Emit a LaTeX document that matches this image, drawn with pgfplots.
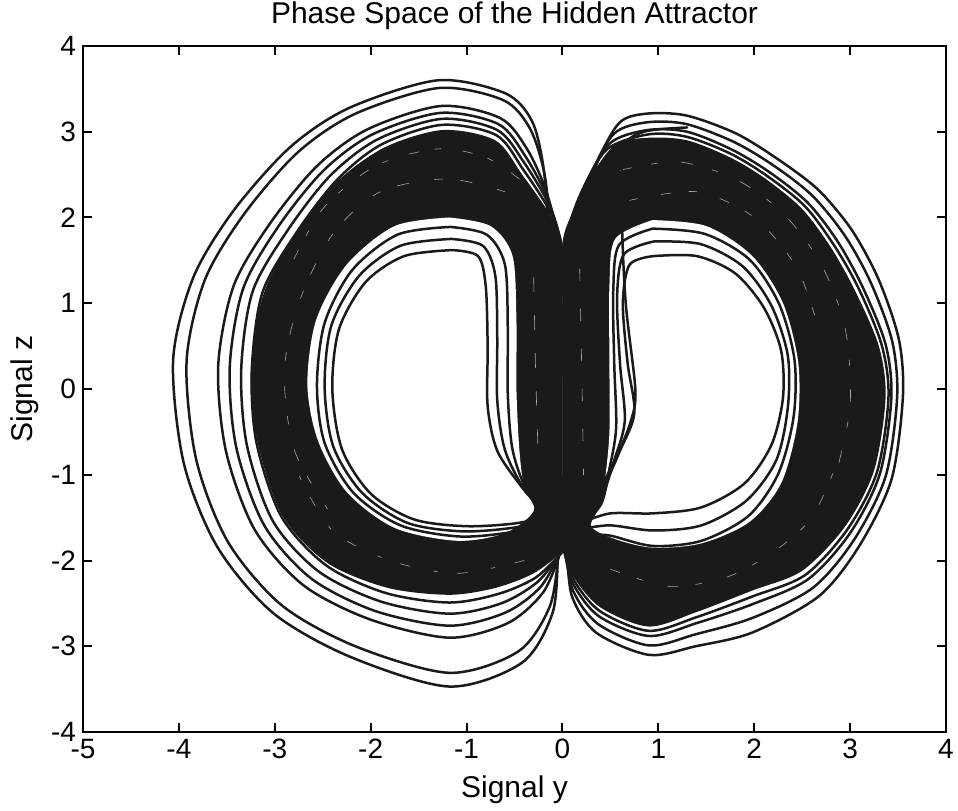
\documentclass[border=0pt]{standalone}
\usepackage{fontspec}
\setmainfont{Liberation Sans}
\usepackage{pgfplots}
\pgfplotsset{compat=1.18}
\definecolor{ink}{RGB}{26,26,26}
\begin{document}
\begin{tikzpicture}
\begin{axis}[name=ax, scale only axis, width=431.5pt, height=343pt,
  xmin=-5, xmax=4, ymin=-4, ymax=4,
  xtick={-5,-4,-3,-2,-1,0,1,2,3,4}, ytick={-4,-3,-2,-1,0,1,2,3,4},
  tick align=inside, xtick pos=both, ytick pos=both,
  major tick length=4.5pt,
  axis line style={line width=1pt, black},
  every tick/.style={line width=1pt, black},
  tick label style={font=\fontsize{14}{16}\selectfont},
  /pgf/number format/assume math mode=true,
  title={Phase Space of the Hidden Attractor},
  title style={font=\fontsize{15}{18}\selectfont, at={(axis description cs:0.5,1.026)}, anchor=center},
  xlabel={Signal y}, ylabel={Signal z},
  xlabel style={font=\fontsize{15}{18}\selectfont, at={(axis description cs:0.5,-0.0845)}, anchor=center},
  ylabel style={font=\fontsize{15}{18}\selectfont, at={(axis description cs:-0.0672,0.5)}, anchor=center},
  every axis plot/.append style={line width=1.25pt, ink, line join=round, line cap=round},
]
% dense bands (outer fills)
\addplot[draw=none, fill=ink, smooth, tension=0.5] coordinates {(0.0,-1.9) (0.0,-1.0) (0.0,0.0) (0.0,1.0) (0.0,1.7) (-0.14,2.05) (-0.42,2.5) (-0.7,2.9) (-1.25,3.02) (-1.85,2.82) (-2.35,2.42) (-2.78,1.82) (-3.12,1.1) (-3.25,0.2) (-3.18,-0.62) (-2.92,-1.48) (-2.45,-2.03) (-1.82,-2.32) (-1.18,-2.4) (-0.7,-2.32) (-0.3,-2.15) (0.0,-1.9)};
\addplot[draw=none, fill=ink, smooth, tension=0.5] coordinates {(0.0,-1.85) (0.0,-1.0) (0.0,0.0) (0.0,1.0) (0.0,1.7) (0.1,2.05) (0.28,2.45) (0.55,2.85) (0.9,2.93) (1.3,2.9) (1.75,2.7) (2.12,2.45) (2.5,2.1) (2.8,1.65) (3.05,1.15) (3.3,0.5) (3.37,-0.1) (3.25,-0.95) (2.95,-1.6) (2.5,-2.12) (1.98,-2.35) (1.4,-2.6) (0.9,-2.77) (0.4,-2.55) (0.12,-2.2) (0.0,-1.85)};
% holes
\addplot[draw=none, fill=white, smooth, tension=0.5] coordinates {(-1.18,2.0) (-0.75,1.9) (-0.52,1.55) (-0.48,0.8) (-0.48,0.0) (-0.45,-0.7) (-0.4,-1.15) (-0.3,-1.42) (-0.6,-1.68) (-1.1,-1.77) (-1.75,-1.62) (-2.25,-1.2) (-2.55,-0.6) (-2.66,0.05) (-2.57,0.8) (-2.25,1.45) (-1.75,1.9) (-1.18,2.0)};
\addplot[draw=none, fill=white, smooth, tension=0.5] coordinates {(0.94,1.97) (0.55,1.75) (0.49,1.2) (0.49,0.3) (0.49,-0.5) (0.45,-1.0) (0.4,-1.35) (0.3,-1.6) (0.55,-1.75) (0.94,-1.85) (1.45,-1.8) (1.95,-1.55) (2.28,-1.1) (2.45,-0.4) (2.46,0.3) (2.3,1.0) (1.98,1.55) (1.5,1.9) (0.94,1.97)};
% faint streaks inside the dense bands
\addplot[gray!70, line width=0.3pt, dash pattern=on 5pt off 11pt on 3pt off 8pt, smooth] coordinates {(-0.45,2.45) (-0.8,2.7) (-1.3,2.8) (-1.95,2.6) (-2.5,2.1) (-2.85,1.4)};
\addplot[gray!70, line width=0.3pt, dash pattern=on 4pt off 13pt on 6pt off 9pt, smooth] coordinates {(-0.6,2.3) (-1.2,2.45) (-1.9,2.3) (-2.4,1.8) (-2.75,1.0) (-2.9,0.2) (-2.8,-0.7) (-2.45,-1.4)};
\addplot[gray!70, line width=0.3pt, dash pattern=on 5pt off 10pt on 2pt off 12pt, smooth] coordinates {(-0.4,-2.0) (-1.1,-2.15) (-1.8,-2.0) (-2.4,-1.65) (-2.75,-1.0)};
\addplot[gray!70, line width=0.3pt, dash pattern=on 6pt off 10pt on 3pt off 12pt, smooth] coordinates {(0.6,2.55) (1.2,2.65) (1.8,2.45) (2.3,2.05) (2.7,1.45) (2.95,0.7) (3.0,-0.2) (2.85,-1.0)};
\addplot[gray!70, line width=0.3pt, dash pattern=on 4pt off 12pt on 5pt off 9pt, smooth] coordinates {(0.7,2.2) (1.4,2.3) (2.0,2.0) (2.45,1.4) (2.7,0.6)};
\addplot[gray!70, line width=0.3pt, dash pattern=on 5pt off 9pt on 3pt off 13pt, smooth] coordinates {(0.5,-2.1) (1.1,-2.3) (1.7,-2.2) (2.2,-1.9) (2.6,-1.5) (2.85,-0.9)};
\addplot[gray!70, line width=0.3pt, dash pattern=on 7pt off 12pt] coordinates {(-0.3,1.3) (-0.28,0.2) (-0.25,-0.9)};
\addplot[gray!70, line width=0.3pt, dash pattern=on 6pt off 14pt] coordinates {(0.18,1.4) (0.2,0.3) (0.22,-1.0)};
% left lobe, outer loops
\addplot[smooth, tension=0.5] coordinates {(-0.05,-1.9) (-0.1,-1.0) (-0.12,0.0) (-0.13,1.0) (-0.15,1.9) (-0.2,2.6) (-0.32,3.13) (-0.6,3.45) (-1.3,3.6) (-2.22,3.28) (-2.84,2.82) (-3.43,2.08) (-3.85,1.3) (-4.06,0.34) (-3.95,-0.86) (-3.6,-1.84) (-3.02,-2.61) (-2.22,-3.12) (-1.18,-3.47) (-0.42,-3.19) (-0.1,-2.6) (-0.05,-1.9)};
\addplot[smooth, tension=0.5] coordinates {(-0.04,-1.9) (-0.09,-1.0) (-0.10,0.0) (-0.11,1.0) (-0.13,1.87) (-0.19,2.52) (-0.34,3.04) (-0.62,3.37) (-1.29,3.51) (-2.16,3.21) (-2.76,2.76) (-3.32,2.04) (-3.73,1.27) (-3.92,0.32) (-3.82,-0.82) (-3.49,-1.78) (-2.93,-2.52) (-2.16,-3.0) (-1.18,-3.31) (-0.46,-3.06) (-0.13,-2.53) (-0.04,-1.9)};
\addplot[smooth, tension=0.5] coordinates {(-0.02,-1.9) (-0.05,-1.0) (-0.06,0.0) (-0.06,1.0) (-0.07,1.80) (-0.17,2.31) (-0.37,2.80) (-0.65,3.16) (-1.27,3.30) (-2.03,3.03) (-2.56,2.60) (-3.05,1.93) (-3.43,1.20) (-3.59,0.27) (-3.51,-0.72) (-3.21,-1.64) (-2.70,-2.29) (-2.0,-2.69) (-1.18,-2.90) (-0.57,-2.73) (-0.20,-2.37) (-0.02,-1.9)};
\addplot[smooth, tension=0.5] coordinates {(-0.02,-1.9) (-0.04,-1.0) (-0.04,0.0) (-0.05,1.0) (-0.05,1.77) (-0.16,2.24) (-0.39,2.72) (-0.67,3.09) (-1.27,3.22) (-1.98,2.97) (-2.49,2.55) (-2.96,1.90) (-3.33,1.17) (-3.47,0.25) (-3.40,-0.69) (-3.11,-1.59) (-2.62,-2.21) (-1.95,-2.59) (-1.18,-2.76) (-0.60,-2.61) (-0.23,-2.31) (-0.02,-1.9)};
\addplot[smooth, tension=0.5] coordinates {(-0.01,-1.9) (-0.02,-1.0) (-0.03,0.0) (-0.03,1.0) (-0.03,1.74) (-0.15,2.17) (-0.40,2.64) (-0.68,3.02) (-1.26,3.15) (-1.93,2.91) (-2.42,2.49) (-2.86,1.86) (-3.23,1.14) (-3.35,0.23) (-3.29,-0.66) (-3.02,-1.54) (-2.54,-2.13) (-1.89,-2.48) (-1.18,-2.62) (-0.64,-2.50) (-0.26,-2.25) (-0.01,-1.9)};
\addplot[smooth, tension=0.5] coordinates {(0.0,-1.9) (-0.01,-1.0) (-0.01,0.0) (-0.01,1.0) (-0.02,1.72) (-0.15,2.11) (-0.41,2.56) (-0.69,2.96) (-1.26,3.08) (-1.89,2.85) (-2.35,2.44) (-2.77,1.83) (-3.13,1.12) (-3.24,0.21) (-3.19,-0.63) (-2.93,-1.49) (-2.46,-2.06) (-1.84,-2.38) (-1.18,-2.49) (-0.67,-2.39) (-0.28,-2.20) (0.0,-1.9)};
% left lobe, inner loops
\addplot[smooth, tension=0.5] coordinates {(-1.15,1.62) (-0.88,1.55) (-0.8,1.2) (-0.78,0.5) (-0.78,-0.2) (-0.68,-0.72) (-0.42,-1.15) (-0.2,-1.45) (-0.45,-1.56) (-1.0,-1.6) (-1.55,-1.52) (-2.0,-1.22) (-2.3,-0.7) (-2.4,0.0) (-2.33,0.7) (-2.05,1.25) (-1.65,1.55) (-1.15,1.62)};
\addplot[smooth, tension=0.5] coordinates {(-1.16,1.75) (-0.83,1.67) (-0.70,1.32) (-0.68,0.61) (-0.68,-0.13) (-0.60,-0.71) (-0.40,-1.17) (-0.17,-1.49) (-0.47,-1.61) (-1.04,-1.66) (-1.62,-1.56) (-2.09,-1.21) (-2.39,-0.67) (-2.48,0.02) (-2.41,0.74) (-2.12,1.32) (-1.69,1.67) (-1.16,1.75)};
\addplot[smooth, tension=0.5] coordinates {(-1.17,1.89) (-0.79,1.80) (-0.60,1.45) (-0.57,0.71) (-0.57,-0.06) (-0.52,-0.71) (-0.37,-1.19) (-0.14,-1.52) (-0.49,-1.66) (-1.07,-1.72) (-1.69,-1.59) (-2.18,-1.21) (-2.48,-0.63) (-2.56,0.04) (-2.48,0.77) (-2.19,1.39) (-1.72,1.80) (-1.17,1.89)};
% right lobe, outer loops
\addplot[smooth, tension=0.5] coordinates {(0.05,-1.9) (0.1,-1.0) (0.12,0.0) (0.13,1.0) (0.2,1.9) (0.35,2.6) (0.59,3.1) (0.87,3.21) (1.29,3.19) (1.81,2.98) (2.26,2.67) (2.67,2.32) (3.02,1.85) (3.3,1.27) (3.51,0.57) (3.55,-0.1) (3.43,-1.06) (3.09,-1.84) (2.67,-2.42) (1.98,-2.84) (1.39,-3.0) (0.9,-3.1) (0.35,-2.84) (0.1,-2.42) (0.05,-1.9)};
\addplot[smooth, tension=0.5] coordinates {(0.03,-1.88) (0.07,-1.0) (0.08,0.0) (0.09,1.0) (0.15,1.88) (0.30,2.50) (0.54,2.98) (0.88,3.11) (1.29,3.09) (1.79,2.88) (2.21,2.60) (2.61,2.25) (2.95,1.78) (3.22,1.23) (3.44,0.55) (3.49,-0.1) (3.37,-1.02) (3.04,-1.76) (2.61,-2.32) (1.98,-2.67) (1.39,-2.86) (0.9,-2.99) (0.37,-2.74) (0.11,-2.35) (0.03,-1.88)};
\addplot[smooth, tension=0.5] coordinates {(0.02,-1.87) (0.03,-1.0) (0.04,0.0) (0.04,1.0) (0.10,1.87) (0.25,2.40) (0.50,2.87) (0.89,3.02) (1.30,3.0) (1.77,2.79) (2.17,2.52) (2.56,2.17) (2.87,1.72) (3.13,1.19) (3.37,0.52) (3.43,-0.1) (3.31,-0.99) (3.0,-1.68) (2.56,-2.22) (1.98,-2.51) (1.40,-2.73) (0.9,-2.88) (0.38,-2.65) (0.11,-2.27) (0.02,-1.87)};
\addplot[smooth, tension=0.5] coordinates {(0.01,-1.86) (0.02,-1.0) (0.02,0.0) (0.02,1.0) (0.07,1.86) (0.22,2.35) (0.47,2.8) (0.9,2.97) (1.3,2.94) (1.76,2.74) (2.14,2.48) (2.53,2.13) (2.83,1.68) (3.09,1.17) (3.33,0.51) (3.4,-0.1) (3.28,-0.97) (2.97,-1.64) (2.53,-2.17) (1.98,-2.42) (1.4,-2.66) (0.9,-2.82) (0.39,-2.59) (0.12,-2.23) (0.01,-1.86)};
% right lobe, inner loops
\addplot[smooth, tension=0.5] coordinates {(0.95,1.55) (0.7,1.45) (0.63,1.0) (0.68,0.3) (0.75,-0.28) (0.6,-0.72) (0.4,-1.2) (0.15,-1.55) (0.5,-1.45) (0.95,-1.45) (1.45,-1.38) (1.9,-1.1) (2.18,-0.65) (2.3,-0.1) (2.28,0.45) (2.1,0.95) (1.8,1.35) (1.4,1.55) (0.95,1.55)};
\addplot[smooth, tension=0.5] coordinates {(0.95,1.72) (0.64,1.57) (0.57,1.08) (0.60,0.30) (0.65,-0.37) (0.54,-0.83) (0.40,-1.28) (0.15,-1.61) (0.50,-1.59) (0.95,-1.65) (1.45,-1.59) (1.92,-1.30) (2.23,-0.83) (2.35,-0.22) (2.35,0.39) (2.18,0.97) (1.88,1.43) (1.44,1.69) (0.95,1.72)};
\addplot[smooth, tension=0.5] coordinates {(0.94,1.87) (0.59,1.68) (0.53,1.15) (0.54,0.30) (0.56,-0.45) (0.49,-0.93) (0.40,-1.35) (0.15,-1.66) (0.50,-1.71) (0.94,-1.83) (1.45,-1.77) (1.94,-1.48) (2.25,-0.99) (2.41,-0.33) (2.42,0.34) (2.26,0.99) (1.95,1.51) (1.48,1.81) (0.94,1.87)};
% right hole, left-side strand
\addplot[smooth, tension=0.5] coordinates {(1.3,3.05) (0.85,3.0) (0.64,2.8) (0.62,2.0) (0.66,1.0) (0.76,0.0) (0.72,-0.35) (0.58,-0.75) (0.35,-1.25) (0.12,-1.6) (0.0,-1.85)};
\end{axis}
\pgfresetboundingbox
\path ([shift={(-41.5pt,-39pt)}]ax.south west) rectangle ([shift={(6pt,23pt)}]ax.north east);
\end{tikzpicture}
\end{document}
